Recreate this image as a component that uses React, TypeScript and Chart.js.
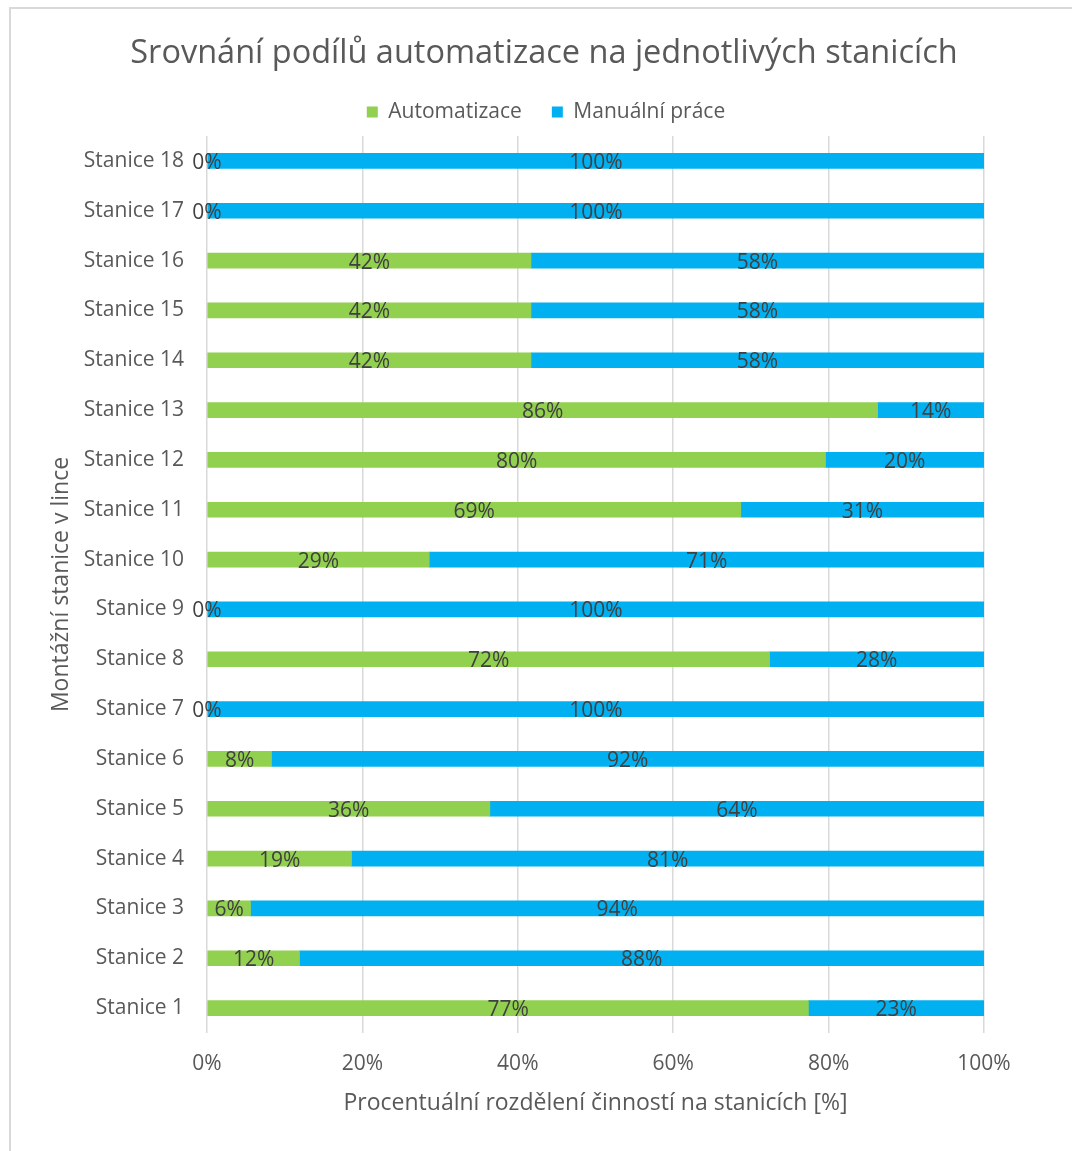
import React, { useEffect, useRef } from "react";
import { Chart, registerables } from "chart.js";

Chart.register(...registerables);

// ---------- data ----------
const categories = [
  "Stanice 1", "Stanice 2", "Stanice 3", "Stanice 4", "Stanice 5", "Stanice 6",
  "Stanice 7", "Stanice 8", "Stanice 9", "Stanice 10", "Stanice 11", "Stanice 12",
  "Stanice 13", "Stanice 14", "Stanice 15", "Stanice 16", "Stanice 17", "Stanice 18",
];
const automation = [77.4, 11.9, 5.6, 18.6, 36.4, 8.3, 0, 72.4, 0, 28.6, 68.7, 79.6, 86.3, 41.7, 41.7, 41.7, 0, 0];
const manual = [22.6, 88.1, 94.4, 81.4, 63.6, 91.7, 100, 27.6, 100, 71.4, 31.3, 20.4, 13.7, 58.3, 58.3, 58.3, 100, 100];
const xTickValues = [0, 20, 40, 60, 80, 100];

const seriesNames = ["Automatizace", "Manuální práce"];
const titleText = "Srovnání podílů automatizace na jednotlivých stanicích";
const xTitle = "Procentuální rozdělení činností na stanicích [%]";
const yTitle = "Montážní stanice v lince";

// ---------- style ----------
const FONT = "'Open Sans', sans-serif";
const GREEN = "#92D050";
const BLUE = "#00B0F0";
const TEXT = "#595959";
const LABEL_TEXT = "#404040";
const W = 1072;
const H = 1151;

const barLabels = {
  id: "barLabels",
  afterDatasetsDraw(chart: any) {
    const ctx = chart.ctx;
    ctx.save();
    ctx.font = `21px ${FONT}`;
    ctx.fillStyle = LABEL_TEXT;
    ctx.textAlign = "center";
    ctx.textBaseline = "middle";
    chart.data.datasets.forEach((ds: any, di: number) => {
      const meta = chart.getDatasetMeta(di);
      meta.data.forEach((bar: any, i: number) => {
        const v = ds.data[i];
        const p = bar.getProps(["x", "y", "base"], true);
        ctx.fillText(Math.round(v) + "%", (p.x + p.base) / 2, p.y + 2);
      });
    });
    ctx.restore();
  },
};

const layoutNudge = {
  id: "layoutNudge",
  afterLayout(chart: any) {
    const t = chart.titleBlock;
    if (t) {
      t.left = 104;
      t.right = 984;
    }
    const l = chart.legend;
    if (l) {
      l.top -= 3.5;
      l.bottom -= 3.5;
      l.left = 108;
      l.right = 984;
    }
  },
};

export default function App() {
  const ref = useRef<HTMLCanvasElement | null>(null);

  useEffect(() => {
    if (!ref.current) return;
    const chart = new Chart(ref.current, {
      type: "bar",
      data: {
        labels: categories,
        datasets: [
          { label: seriesNames[0], data: automation, backgroundColor: GREEN, borderWidth: 0, barThickness: 15 },
          { label: seriesNames[1], data: manual, backgroundColor: BLUE, borderWidth: 0, barThickness: 15 },
        ],
      },
      plugins: [barLabels, layoutNudge],
      options: {
        indexAxis: "y",
        responsive: false,
        animation: false,
        devicePixelRatio: 1,
        layout: { padding: { left: 20, right: 88, top: 0, bottom: 31.4 } },
        font: { family: FONT },
        plugins: {
          tooltip: { enabled: false },
          title: {
            display: true,
            text: titleText,
            color: TEXT,
            font: { family: FONT, size: 32.5, weight: "normal" },
            padding: { top: 34.5, bottom: 1.5 },
          },
          legend: {
            display: true,
            position: "top",
            labels: {
              color: TEXT,
              font: { family: FONT, size: 21 },
              boxWidth: 11,
              boxHeight: 11,
              padding: 30,
            },
          },
        },
        scales: {
          x: {
            stacked: true,
            min: 0,
            max: 100,
            afterBuildTicks: (scale: any) => {
              scale.ticks = xTickValues.map((v) => ({ value: v }));
            },
            ticks: {
              color: TEXT,
              font: { family: FONT, size: 21 },
              padding: 18.4,
              callback: (v: any) => v + "%",
            },
            grid: { color: "#d9d9d9", lineWidth: 1.5, drawTicks: false },
            border: { display: false },
            title: {
              display: true,
              text: xTitle,
              color: TEXT,
              font: { family: FONT, size: 23 },
              padding: { top: -5.8, bottom: 2.8 },
            },
          },
          y: {
            stacked: true,
            reverse: true,
            afterFit: (scale: any) => {
              scale.width = 187;
            },
            ticks: {
              color: TEXT,
              font: { family: FONT, size: 21 },
              padding: 23,
            },
            grid: { display: false, drawTicks: false },
            border: { display: false },
            title: {
              display: true,
              text: yTitle,
              color: TEXT,
              font: { family: FONT, size: 23 },
              padding: { top: 27.2, bottom: 0 },
            },
          },
        },
      },
    } as any);
    return () => chart.destroy();
  }, []);

  return (
    <div
      style={{
        position: "fixed",
        left: 0,
        top: 0,
        width: W,
        height: H,
        overflow: "hidden",
        background: "#ffffff",
      }}
    >
      <div
        style={{
          position: "absolute",
          left: 9,
          top: 7,
          width: W + 40,
          height: H + 40,
          borderLeft: "2px solid #d9d9d9",
          borderTop: "2px solid #d9d9d9",
          boxSizing: "border-box",
        }}
      />
      <canvas
        ref={ref}
        width={W}
        height={H}
        style={{ position: "absolute", left: 0, top: 0, width: W, height: H }}
      />
    </div>
  );
}
